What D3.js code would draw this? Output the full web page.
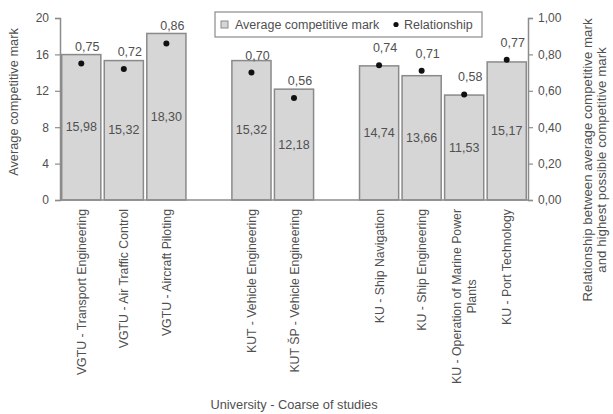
<!DOCTYPE html>
<html>
<head>
<meta charset="utf-8">
<script src="https://cdn.jsdelivr.net/npm/d3@7"></script>
<style>
  html, body { margin: 0; padding: 0; background: #fff; }
  svg { display: block; font-family: "Liberation Sans", Arial, sans-serif; }
</style>
</head>
<body>
<svg id="chart" width="613" height="414"></svg>
<script>
// ---- data ----
const categories = [
  "VGTU - Transport Engineering",
  "VGTU - Air Traffic Control",
  "VGTU - Aircraft Piloting",
  "",
  "KUT - Vehicle Engineering",
  "KUT ŠP - Vehicle Engineering",
  "",
  "KU - Ship Navigation",
  "KU - Ship Engineering",
  "KU - Operation of Marine Power Plants",
  "KU - Port Technology"
];
const averageMark = [15.98, 15.32, 18.30, null, 15.32, 12.18, null, 14.74, 13.66, 11.53, 15.17];
const relationship = [0.75, 0.72, 0.86, null, 0.70, 0.56, null, 0.74, 0.71, 0.58, 0.77];
const leftTicks = [0, 4, 8, 12, 16, 20];
const rightTicks = [0, 0.2, 0.4, 0.6, 0.8, 1.0];
const seriesNames = ["Average competitive mark", "Relationship"];
const xTitle = "University - Coarse of studies";
const yLeftTitle = "Average competitive mark";
const yRightTitle = ["Relationship between average competitive mark", "and highest possible competitive mark"];

// ---- layout ----
const svg = d3.select("#chart");
const m = { left: 60, right: 528, top: 18, bottom: 200 };
const textColor = "#505050";
const axisColor = "#8c8c8c";
const fsH = 12.5;   // horizontal text
const fsV = 12.3;   // rotated category labels
const fmt2 = v => d3.format(".2f")(v).replace(".", ",");

const x = d3.scaleBand()
  .domain(categories.map((d, i) => i))
  .range([m.left, m.right])
  .paddingInner(0.08)
  .paddingOuter(0.04);
const yL = d3.scaleLinear().domain([0, 20]).range([m.bottom, m.top]);
const yR = d3.scaleLinear().domain([0, 1]).range([m.bottom, m.top]);

// bars
const idx = categories.map((d, i) => i);
svg.append("g").selectAll("rect")
  .data(idx.filter(i => averageMark[i] != null))
  .join("rect")
  .attr("x", i => x(i))
  .attr("y", i => yL(averageMark[i]))
  .attr("width", x.bandwidth())
  .attr("height", i => yL(0) - yL(averageMark[i]))
  .attr("fill", "#d6d6d6")
  .attr("stroke", "#8a8a8a")
  .attr("stroke-width", 1.5);

// bar labels
svg.append("g").selectAll("text")
  .data(idx.filter(i => averageMark[i] != null))
  .join("text")
  .attr("x", i => x(i) + x.bandwidth() / 2)
  .attr("y", i => (yL(averageMark[i]) + yL(0)) / 2 + 4)
  .attr("text-anchor", "middle")
  .attr("font-size", fsH)
  .attr("fill", textColor)
  .text(i => fmt2(averageMark[i]));

// axes
const gL = svg.append("g").attr("transform", `translate(${m.left},0)`)
  .call(d3.axisLeft(yL).tickValues(leftTicks).tickSize(5).tickPadding(6).tickFormat(d3.format("d")));
const gR = svg.append("g").attr("transform", `translate(${m.right},0)`)
  .call(d3.axisRight(yR).tickValues(rightTicks).tickSize(5).tickPadding(5).tickFormat(fmt2));
[gL, gR].forEach(g => {
  g.select(".domain").attr("stroke", axisColor).attr("stroke-width", 1.5);
  g.selectAll(".tick line").attr("stroke", axisColor).attr("stroke-width", 1.2);
  g.selectAll(".tick text").attr("fill", textColor).attr("font-size", 12)
    .attr("font-family", "'Liberation Sans', Arial, sans-serif");
});
// x baseline
svg.append("line")
  .attr("x1", m.left).attr("x2", m.right)
  .attr("y1", yL(0)).attr("y2", yL(0))
  .attr("stroke", axisColor).attr("stroke-width", 1.5);

// relationship dots
svg.append("g").selectAll("circle")
  .data(idx.filter(i => relationship[i] != null))
  .join("circle")
  .attr("cx", i => x(i) + x.bandwidth() / 2)
  .attr("cy", i => yR(relationship[i]))
  .attr("r", 3)
  .attr("fill", "#111");

svg.append("g").selectAll("text")
  .data(idx.filter(i => relationship[i] != null))
  .join("text")
  .attr("x", i => x(i) + x.bandwidth() / 2 + 6)
  .attr("y", i => yR(relationship[i]) - 13)
  .attr("text-anchor", "middle")
  .attr("font-size", fsH)
  .attr("fill", textColor)
  .text(i => fmt2(relationship[i]));

// x category labels (rotated, wrapped)
const maxLen = 195;
const labG = svg.append("g");
idx.forEach(i => {
  if (!categories[i]) return;
  const cx = x(i) + x.bandwidth() / 2;
  const t = labG.append("text")
    .attr("transform", `translate(${cx},${m.bottom + 9}) rotate(-90)`)
    .attr("text-anchor", "end")
    .attr("font-size", fsV)
    .attr("fill", textColor);
  const words = categories[i].split(" ");
  let lines = [], cur = [];
  const probe = t.append("tspan");
  words.forEach(w => {
    const trial = cur.concat([w]).join(" ");
    probe.text(trial);
    if (probe.node().getComputedTextLength() > maxLen && cur.length) {
      lines.push(cur.join(" "));
      cur = [w];
    } else cur.push(w);
  });
  lines.push(cur.join(" "));
  probe.remove();
  const lh = 15;
  const off = -(lines.length - 1) * lh / 2;
  lines.forEach((ln, k) => {
    t.append("tspan")
      .attr("x", 0)
      .attr("y", off + k * lh + 4.5)
      .attr("text-anchor", k === 0 ? "end" : "middle")
      .text(ln);
  });
  if (lines.length > 1) {
    const firstLen = t.select("tspan").node().getComputedTextLength();
    t.selectAll("tspan").filter((d, k) => k > 0).attr("x", -firstLen / 2);
  }
});

// axis titles
svg.append("text")
  .attr("x", (m.left + m.right) / 2)
  .attr("y", 409)
  .attr("text-anchor", "middle")
  .attr("font-size", 12.8)
  .attr("fill", textColor)
  .text(xTitle);

svg.append("text")
  .attr("transform", `translate(18,102) rotate(-90)`)
  .attr("text-anchor", "middle")
  .attr("font-size", 12.8)
  .attr("fill", textColor)
  .text(yLeftTitle);

yRightTitle.forEach((s, k) => {
  svg.append("text")
    .attr("transform", `translate(${592 + k * 14},160) rotate(-90)`)
    .attr("text-anchor", "middle")
    .attr("font-size", 13.3)
    .attr("fill", textColor)
    .text(s);
});

// legend
const lg = svg.append("g");
lg.append("rect")
  .attr("x", 215).attr("y", 12).attr("width", 267).attr("height", 25)
  .attr("fill", "#fff").attr("stroke", "#8a8a8a").attr("stroke-width", 1.2);
lg.append("rect")
  .attr("x", 221).attr("y", 21).attr("width", 7).attr("height", 7)
  .attr("fill", "#d6d6d6").attr("stroke", "#8a8a8a").attr("stroke-width", 1);
lg.append("text").attr("x", 235).attr("y", 29)
  .attr("font-size", fsH).attr("fill", textColor).text(seriesNames[0]);
lg.append("circle").attr("cx", 396).attr("cy", 24.5).attr("r", 2.6).attr("fill", "#111");
lg.append("text").attr("x", 404).attr("y", 29)
  .attr("font-size", fsH).attr("fill", textColor).text(seriesNames[1]);
</script>
</body>
</html>
